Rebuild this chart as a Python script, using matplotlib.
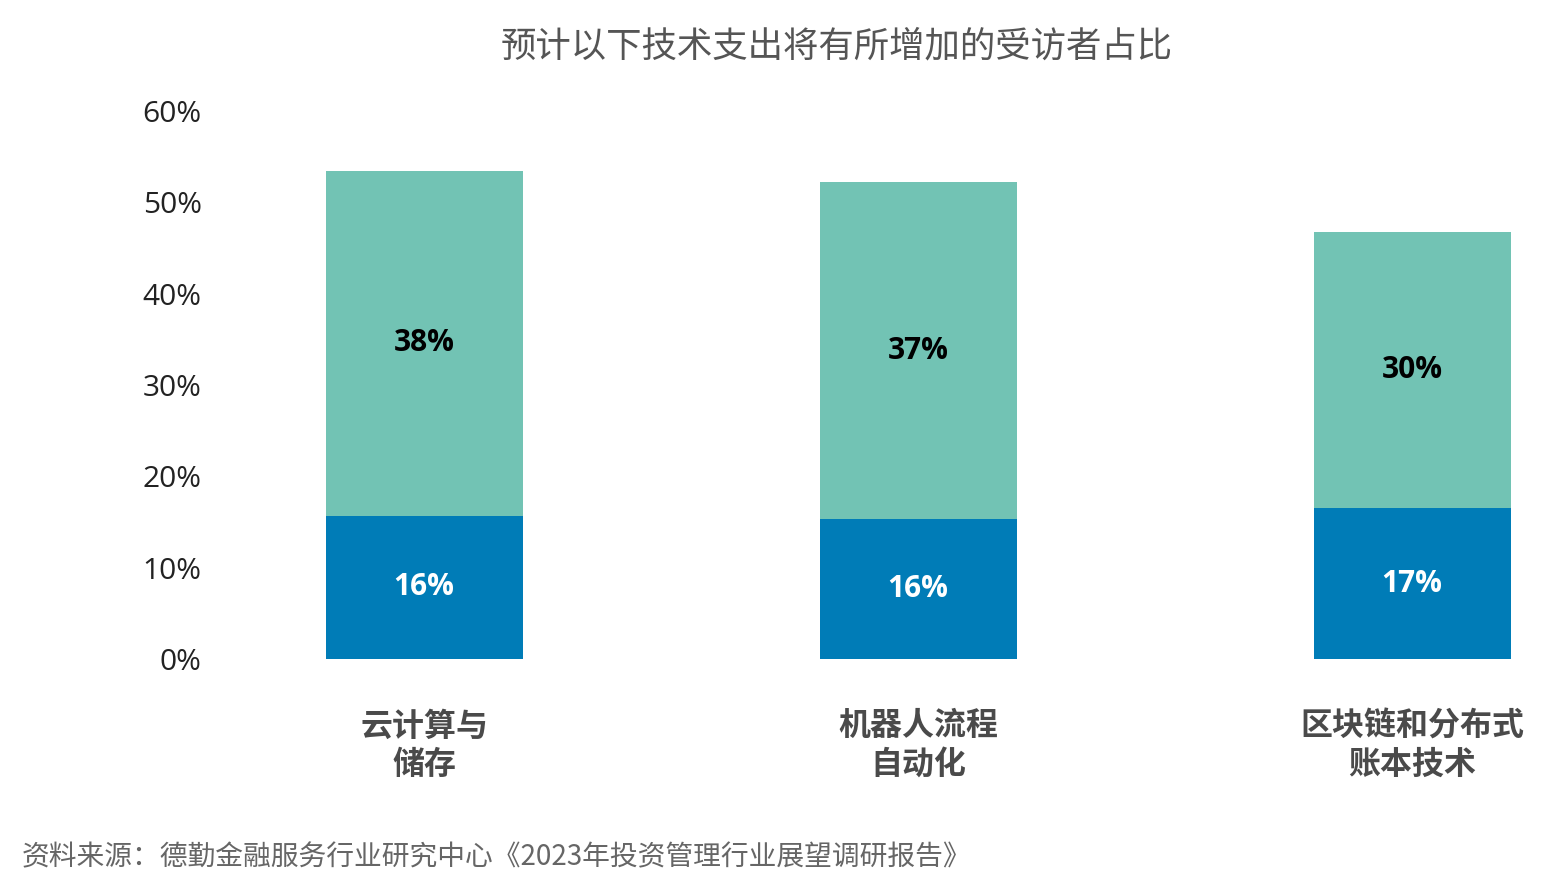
import matplotlib
matplotlib.use("Agg")
import matplotlib.pyplot as plt

plt.rcParams['font.family'] = ['Noto Sans CJK SC', 'DejaVu Sans']

categories = ["云计算与\n储存", "机器人流程\n自动化", "区块链和分布式\n账本技术"]
lowerValues = [15.7, 15.3, 16.5]
upperValues = [37.7, 36.9, 30.2]
lowerLabels = ["16%", "16%", "17%"]
upperLabels = ["38%", "37%", "30%"]
yTicks = [0, 10, 20, 30, 40, 50, 60]

blue = "#007CB7"
teal = "#72C3B4"

W, H = 1561, 877
fig = plt.figure(figsize=(W / 100, H / 100), dpi=100)
ax = fig.add_axes([210 / W, (H - 659) / H, (1540 - 210) / W, (659 - 111) / H])

x = range(len(categories))
barWidth = 197 / 494
ax.bar(x, lowerValues, width=barWidth, color=blue)
ax.bar(x, upperValues, width=barWidth, bottom=lowerValues, color=teal)

for i in x:
	ax.text(i, lowerValues[i] / 2, lowerLabels[i], ha='center', va='center',
			color='white', fontsize=21.5, fontweight='bold', family=['Open Sans', 'DejaVu Sans'])
	ax.text(i, lowerValues[i] + upperValues[i] / 2, upperLabels[i], ha='center', va='center',
			color='black', fontsize=21.5, fontweight='bold', family=['Open Sans', 'DejaVu Sans'])

ax.set_xlim(-214 / 494, 1116 / 494)
ax.set_ylim(0, 60)
ax.set_yticks(yTicks)
ax.set_yticklabels(["%d%%" % t for t in yTicks], family=['Open Sans', 'DejaVu Sans'],
				   fontsize=21.5, color='#222222')
ax.set_xticks(list(x))
ax.set_xticklabels(categories, fontsize=23, fontweight='bold', color='#4a4a4a', linespacing=1.25)
ax.tick_params(axis='x', length=0, pad=37)
ax.tick_params(axis='y', length=0, pad=6)
for s in ax.spines.values():
	s.set_visible(False)

fig.text(837 / W, 1 - 46 / H, "预计以下技术支出将有所增加的受访者占比", ha='center', va='center',
		 fontsize=25.5, color='#555555')
fig.text(22 / W, 1 - 857 / H, "资料来源：德勤金融服务行业研究中心《2023年投资管理行业展望调研报告》",
		 ha='left', va='center', fontsize=20, color='#666666', fontweight='light')

fig.savefig("out.png", dpi=100)
